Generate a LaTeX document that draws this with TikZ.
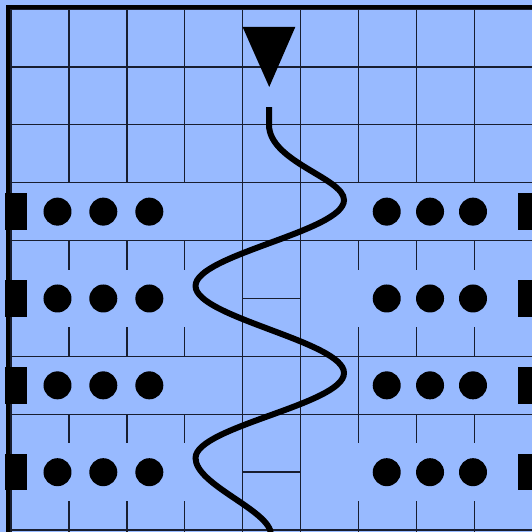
\documentclass[tikz,border=0pt]{standalone}
\usepackage{tikz}
\usepackage{xcolor}
\definecolor{board}{RGB}{152,186,255}
\definecolor{gridcol}{RGB}{24,30,48}

\begin{document}
\begin{tikzpicture}[
    x=57.9pt, y=-57.9pt,
    gridline/.style={draw=gridcol, line width=1.4pt},
    boardframe/.style={draw=black, line width=4pt},
    post/.style={fill=black},
    pellet/.style={fill=black},
    wave/.style={draw=black, line width=6pt}
]
    \path[use as bounding box, fill=board] (-0.19,-0.155) rectangle (8.998,9.033);

    \foreach \y in {0,1,2,3,4,6,7,9}
        \draw[gridline] (0,\y) -- (9.2,\y);
    \foreach \y in {5,8}
        \draw[gridline] (4,\y) -- (5,\y);
    \foreach \x in {0,4,5}
        \draw[gridline] (\x,0) -- (\x,9.2);
    \foreach \x in {1,2,3,6,7,8}
        \draw[gridline] (\x,0) -- (\x,3) (\x,4) -- (\x,4.5) (\x,5.5) -- (\x,6)
            (\x,7) -- (\x,7.5) (\x,8.5) -- (\x,9.2);
    \draw[gridline] (6,6) -- (6,7);

    \draw[boardframe] (-0.052,-0.035) rectangle (9.05,9.07);

    \foreach \y in {3.5,5,6.5,8} {
        \fill[post] (-0.1,\y-0.315) rectangle (0.27,\y+0.315);
        \fill[post] (8.75,\y-0.315) rectangle (9.2,\y+0.315);
        \foreach \x in {0.803,1.594,2.389,6.489,7.237,7.979}
            \fill[pellet] (\x,\y) circle[radius=14pt];
    }

    \fill (4.0,0.311) -- (4.91,0.311) -- (4.46,1.347) -- cycle;

    \coordinate (head) at (4.456,1.693);
    \coordinate (tail) at (4.49,9.08);
    \draw[wave] (head) -- (4.456,2.0)
        .. controls +(0,0.64) and +(0,-0.38) .. (5.751,3.3)
        .. controls +(0,0.54) and +(0,-0.54) .. (3.187,4.784)
        .. controls +(0,0.54) and +(0,-0.54) .. (5.751,6.287)
        .. controls +(0,0.54) and +(0,-0.54) .. (3.187,7.755)
        .. controls +(0,0.47) and +(0,-0.42) .. (tail);
\end{tikzpicture}
\end{document}
